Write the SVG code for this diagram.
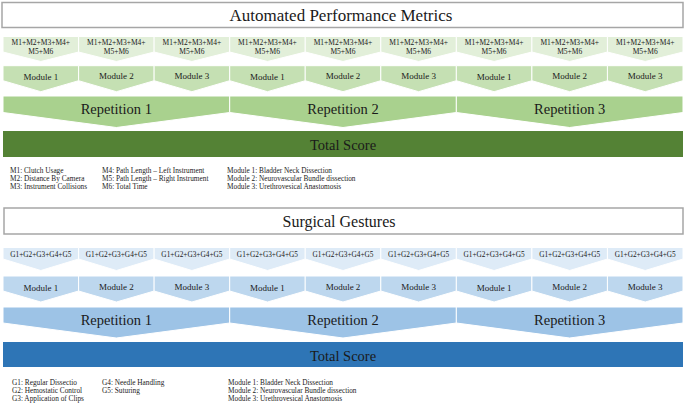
<svg xmlns="http://www.w3.org/2000/svg" xmlns:xlink="http://www.w3.org/1999/xlink" width="685" height="406" viewBox="0 0 685 406">
<style>
text{font-family:"Liberation Serif","Times New Roman",serif;fill:#1a1a1a;stroke:none;text-anchor:middle;dominant-baseline:central}
.title{font-size:17px}
.m{font-size:7.5px}
.gs{font-size:7.3px}
.mod{font-size:9px}
.rep{font-size:14.5px}
.tot{font-size:14.5px}
.leg{font-size:7.3px;text-anchor:start;dominant-baseline:auto}
.tbox{fill:#fff;stroke:#a6a6a6;stroke-width:1.5}
.g1{fill:#e2efd9;stroke:#fff;stroke-width:1}
.g2{fill:#c5e0b3;stroke:#fff;stroke-width:1}
.g3{fill:#a9d18e;stroke:#fff;stroke-width:1}
.g4{fill:#548235}
.b1{fill:#deebf7;stroke:#fff;stroke-width:1}
.b2{fill:#bdd7ee;stroke:#fff;stroke-width:1}
.b3{fill:#9dc3e6;stroke:#fff;stroke-width:1}
.b4{fill:#2e75b6}
</style>
<defs>
<path id="c1" d="M0 0H75.6V15.5L37.8 25L0 15.5Z"/>
<path id="c2" d="M0 0H75.6V15L37.8 26L0 15Z"/>
<path id="c3" d="M0 0H226.7V16.5L113.3 31.5L0 16.5Z"/>
<path id="d1" d="M0 0H75.6V11.5L37.8 23L0 11.5Z"/>
<path id="d2" d="M0 0H75.6V15L37.8 26L0 15Z"/>
<path id="d3" d="M0 0H226.7V16L113.3 31L0 16Z"/>
</defs>

<g id="title-apm"><rect class="tbox" x="2" y="2.5" width="681" height="25"/><text class="title" x="341" y="15">Automated Performance Metrics</text></g>

<g id="apm-metrics">
<g id="apm-m1"><use class="g1" href="#c1" x="3" y="36.5"/><text class="m" x="40.8" y="42">M1+M2+M3+M4+</text><text class="m" x="40.8" y="51">M5+M6</text></g>
<g id="apm-m2"><use class="g1" href="#c1" x="78.6" y="36.5"/><text class="m" x="116.3" y="42">M1+M2+M3+M4+</text><text class="m" x="116.3" y="51">M5+M6</text></g>
<g id="apm-m3"><use class="g1" href="#c1" x="154.1" y="36.5"/><text class="m" x="191.9" y="42">M1+M2+M3+M4+</text><text class="m" x="191.9" y="51">M5+M6</text></g>
<g id="apm-m4"><use class="g1" href="#c1" x="229.7" y="36.5"/><text class="m" x="267.4" y="42">M1+M2+M3+M4+</text><text class="m" x="267.4" y="51">M5+M6</text></g>
<g id="apm-m5"><use class="g1" href="#c1" x="305.2" y="36.5"/><text class="m" x="343" y="42">M1+M2+M3+M4+</text><text class="m" x="343" y="51">M5+M6</text></g>
<g id="apm-m6"><use class="g1" href="#c1" x="380.8" y="36.5"/><text class="m" x="418.6" y="42">M1+M2+M3+M4+</text><text class="m" x="418.6" y="51">M5+M6</text></g>
<g id="apm-m7"><use class="g1" href="#c1" x="456.3" y="36.5"/><text class="m" x="494.1" y="42">M1+M2+M3+M4+</text><text class="m" x="494.1" y="51">M5+M6</text></g>
<g id="apm-m8"><use class="g1" href="#c1" x="531.9" y="36.5"/><text class="m" x="569.7" y="42">M1+M2+M3+M4+</text><text class="m" x="569.7" y="51">M5+M6</text></g>
<g id="apm-m9"><use class="g1" href="#c1" x="607.4" y="36.5"/><text class="m" x="645.2" y="42">M1+M2+M3+M4+</text><text class="m" x="645.2" y="51">M5+M6</text></g>
</g>

<g id="apm-modules">
<g id="apm-mod1"><use class="g2" href="#c2" x="3" y="65.7"/><text class="mod" x="40.8" y="77">Module 1</text></g>
<g id="apm-mod2"><use class="g2" href="#c2" x="78.6" y="65.7"/><text class="mod" x="116.3" y="76">Module 2</text></g>
<g id="apm-mod3"><use class="g2" href="#c2" x="154.1" y="65.7"/><text class="mod" x="191.9" y="76">Module 3</text></g>
<g id="apm-mod4"><use class="g2" href="#c2" x="229.7" y="65.7"/><text class="mod" x="267.4" y="77">Module 1</text></g>
<g id="apm-mod5"><use class="g2" href="#c2" x="305.2" y="65.7"/><text class="mod" x="343" y="76">Module 2</text></g>
<g id="apm-mod6"><use class="g2" href="#c2" x="380.8" y="65.7"/><text class="mod" x="418.6" y="76">Module 3</text></g>
<g id="apm-mod7"><use class="g2" href="#c2" x="456.3" y="65.7"/><text class="mod" x="494.1" y="77">Module 1</text></g>
<g id="apm-mod8"><use class="g2" href="#c2" x="531.9" y="65.7"/><text class="mod" x="569.7" y="76">Module 2</text></g>
<g id="apm-mod9"><use class="g2" href="#c2" x="607.4" y="65.7"/><text class="mod" x="645.2" y="76">Module 3</text></g>
</g>

<g id="apm-reps">
<g id="apm-rep1"><use class="g3" href="#c3" x="3" y="96"/><text class="rep" x="116.3" y="109">Repetition 1</text></g>
<g id="apm-rep2"><use class="g3" href="#c3" x="229.7" y="96"/><text class="rep" x="343" y="109">Repetition 2</text></g>
<g id="apm-rep3"><use class="g3" href="#c3" x="456.3" y="96"/><text class="rep" x="569.7" y="109">Repetition 3</text></g>
</g>

<g id="apm-total"><rect class="g4" x="3" y="131" width="680" height="26"/><text class="tot" x="343" y="145">Total Score</text></g>

<g id="apm-legend">
<text class="leg" x="10" y="172.5">M1: Clutch Usage</text>
<text class="leg" x="10" y="180.5">M2: Distance By Camera</text>
<text class="leg" x="10" y="188.5">M3: Instrument Collisions</text>
<text class="leg" x="102" y="172.5">M4: Path Length – Left Instrument</text>
<text class="leg" x="102" y="180.5">M5: Path Length – Right Instrument</text>
<text class="leg" x="102" y="188.5">M6:  Total Time</text>
<text class="leg" x="227" y="172.5">Module 1: Bladder Neck Dissection</text>
<text class="leg" x="227" y="180.5">Module 2: Neurovascular Bundle dissection</text>
<text class="leg" x="227" y="188.5">Module 3: Urethrovesical Anastomosis</text>
</g>

<g id="title-sg"><rect class="tbox" x="4" y="208" width="679" height="26"/><text class="title" x="339" y="221" style="font-size:16px">Surgical Gestures</text></g>

<g id="sg-gestures">
<g id="sg-g1"><use class="b1" href="#d1" x="3" y="247.5"/><text class="gs" x="40.8" y="254">G1+G2+G3+G4+G5</text></g>
<g id="sg-g2"><use class="b1" href="#d1" x="78.6" y="247.5"/><text class="gs" x="116.3" y="254">G1+G2+G3+G4+G5</text></g>
<g id="sg-g3"><use class="b1" href="#d1" x="154.1" y="247.5"/><text class="gs" x="191.9" y="254">G1+G2+G3+G4+G5</text></g>
<g id="sg-g4"><use class="b1" href="#d1" x="229.7" y="247.5"/><text class="gs" x="267.4" y="254">G1+G2+G3+G4+G5</text></g>
<g id="sg-g5"><use class="b1" href="#d1" x="305.2" y="247.5"/><text class="gs" x="343" y="254">G1+G2+G3+G4+G5</text></g>
<g id="sg-g6"><use class="b1" href="#d1" x="380.8" y="247.5"/><text class="gs" x="418.6" y="254">G1+G2+G3+G4+G5</text></g>
<g id="sg-g7"><use class="b1" href="#d1" x="456.3" y="247.5"/><text class="gs" x="494.1" y="254">G1+G2+G3+G4+G5</text></g>
<g id="sg-g8"><use class="b1" href="#d1" x="531.9" y="247.5"/><text class="gs" x="569.7" y="254">G1+G2+G3+G4+G5</text></g>
<g id="sg-g9"><use class="b1" href="#d1" x="607.4" y="247.5"/><text class="gs" x="645.2" y="254">G1+G2+G3+G4+G5</text></g>
</g>

<g id="sg-modules">
<g id="sg-mod1"><use class="b2" href="#d2" x="3" y="276"/><text class="mod" x="40.8" y="287.5">Module 1</text></g>
<g id="sg-mod2"><use class="b2" href="#d2" x="78.6" y="276"/><text class="mod" x="116.3" y="286.5">Module 2</text></g>
<g id="sg-mod3"><use class="b2" href="#d2" x="154.1" y="276"/><text class="mod" x="191.9" y="286.5">Module 3</text></g>
<g id="sg-mod4"><use class="b2" href="#d2" x="229.7" y="276"/><text class="mod" x="267.4" y="287.5">Module 1</text></g>
<g id="sg-mod5"><use class="b2" href="#d2" x="305.2" y="276"/><text class="mod" x="343" y="286.5">Module 2</text></g>
<g id="sg-mod6"><use class="b2" href="#d2" x="380.8" y="276"/><text class="mod" x="418.6" y="286.5">Module 3</text></g>
<g id="sg-mod7"><use class="b2" href="#d2" x="456.3" y="276"/><text class="mod" x="494.1" y="287.5">Module 1</text></g>
<g id="sg-mod8"><use class="b2" href="#d2" x="531.9" y="276"/><text class="mod" x="569.7" y="286.5">Module 2</text></g>
<g id="sg-mod9"><use class="b2" href="#d2" x="607.4" y="276"/><text class="mod" x="645.2" y="286.5">Module 3</text></g>
</g>

<g id="sg-reps">
<g id="sg-rep1"><use class="b3" href="#d3" x="3" y="307"/><text class="rep" x="116.3" y="320">Repetition 1</text></g>
<g id="sg-rep2"><use class="b3" href="#d3" x="229.7" y="307"/><text class="rep" x="343" y="320">Repetition 2</text></g>
<g id="sg-rep3"><use class="b3" href="#d3" x="456.3" y="307"/><text class="rep" x="569.7" y="320">Repetition 3</text></g>
</g>

<g id="sg-total"><rect class="b4" x="3" y="342" width="680" height="25"/><text class="tot" x="343" y="355.5">Total Score</text></g>

<g id="sg-legend">
<text class="leg" x="12" y="384.5">G1: Regular Dissectio</text>
<text class="leg" x="12" y="392.5">G2: Hemostatic Control</text>
<text class="leg" x="12" y="400.5">G3: Application of Clips</text>
<text class="leg" x="102" y="384.5">G4: Needle Handling</text>
<text class="leg" x="102" y="392.5">G5: Suturing</text>
<text class="leg" x="228" y="384.5">Module 1: Bladder Neck Dissection</text>
<text class="leg" x="228" y="392.5">Module 2: Neurovascular Bundle dissection</text>
<text class="leg" x="228" y="400.5">Module 3: Urethrovesical Anastomosis</text>
</g>
</svg>
